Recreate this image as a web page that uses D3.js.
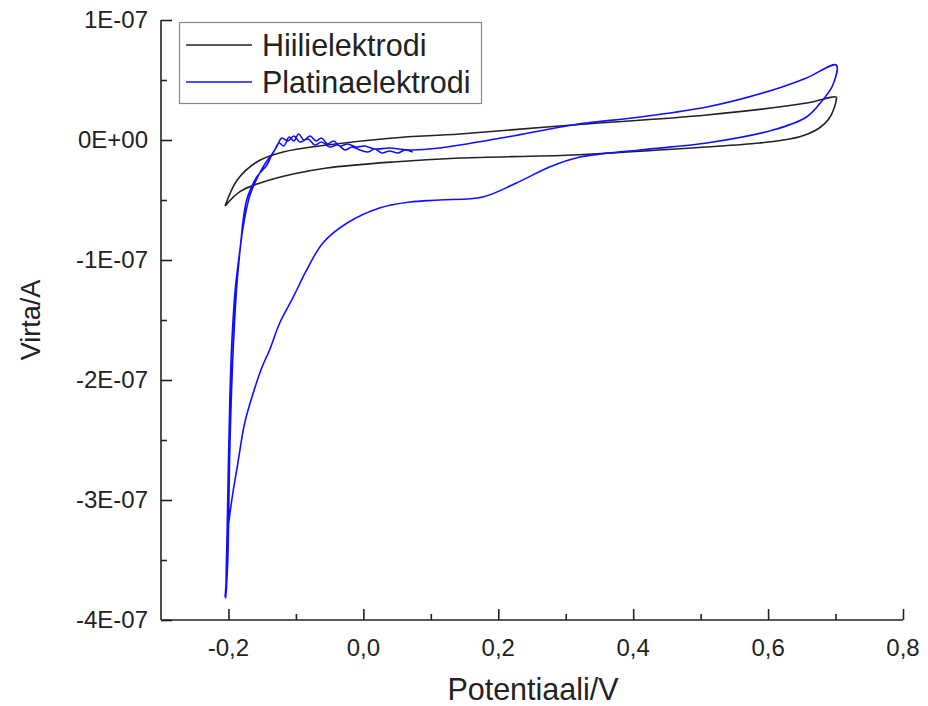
<!DOCTYPE html>
<html>
<head>
<meta charset="utf-8">
<script src="https://cdn.jsdelivr.net/npm/d3@7"></script>
<style>
  body { margin: 0; background: #fff; }
  text { font-family: "Liberation Sans", Arial, sans-serif; fill: #222; }
</style>
</head>
<body>
<div id="chart"></div>
<script>
// Hiilielektrodi (carbon electrode), potential V / current in 1E-08 A
var hiiliX = [-0.205, -0.187, -0.158, -0.119, -0.054, 0.044, 0.143, 0.310, 0.509, 0.657, 0.701,
              0.701, 0.698, 0.690, 0.676, 0.659, 0.632, 0.587, 0.509, 0.310, 0.143, 0.044, -0.054, -0.104, -0.153, -0.183, -0.205];
var hiiliY = [-5.5, -3.33, -1.83, -1.0, -0.42, 0.17, 0.5, 1.25, 2.08, 3.08, 3.58,
              3.33, 2.67, 1.75, 1.0, 0.5, 0.08, -0.25, -0.58, -1.25, -1.5, -1.83, -2.33, -2.83, -3.58, -4.3, -5.5];

// Platinaelektrodi (platinum electrode)
var platX = [0.073, 0.062, 0.051, 0.039, 0.027, 0.017, 0.007, -0.005, -0.017, -0.027, -0.038, -0.050,
             -0.062, -0.072, -0.082, -0.094, -0.103, -0.112, -0.121, -0.128, -0.136, -0.143,
             -0.158, -0.173, -0.183, -0.190, -0.195, -0.198, -0.202, -0.204,
             -0.201, -0.198, -0.193, -0.187, -0.179, -0.168, -0.153, -0.142, -0.133, -0.125, -0.118,
             -0.110, -0.103, -0.096, -0.088, -0.079, -0.070, -0.062, -0.053, -0.044, -0.035, -0.023,
             -0.011, 0.002, 0.017, 0.039, 0.069, 0.113, 0.213, 0.310, 0.410, 0.509, 0.607, 0.657, 0.701,
             0.696, 0.681, 0.657, 0.607, 0.509, 0.410, 0.321, 0.276, 0.227, 0.177, 0.113, 0.069, 0.024,
             -0.024, -0.060, -0.084, -0.104, -0.124, -0.139, -0.150, -0.165, -0.176, -0.187, -0.195,
             -0.201, -0.202, -0.205];
var platY = [-1.0, -0.83, -1.08, -0.92, -1.08, -0.75, -1.0, -0.83, -0.58, -0.83, -0.42, -0.58,
             -0.17, -0.42, 0.08, -0.17, 0.33, -0.08, 0.17, -0.5, -1.25, -2.08,
             -3.08, -5.0, -9.17, -12.5, -16.9, -21.7, -32.75, -38.2,
             -35.0, -25.8, -17.5, -11.7, -7.5, -4.58, -2.67, -1.67, -1.0, -0.25, -0.5,
             0.25, -0.08, 0.5, 0.0, 0.33, -0.08, 0.17, -0.33, -0.08, -0.5, -0.33,
             -0.58, -0.5, -0.75, -0.67, -0.83, -0.67, 0.25, 1.25, 1.92, 2.75, 4.17, 5.17, 6.25,
             4.58, 3.33, 1.92, 0.83, -0.25, -0.83, -1.42, -2.25, -3.58, -4.75, -5.0, -5.17, -5.67,
             -6.92, -8.58, -10.83, -13.1, -15.25, -17.5, -18.9, -21.4, -23.6, -27.25, -30.0,
             -32.75, -35.6, -38.1];

var xTicks = [-0.2, 0.0, 0.2, 0.4, 0.6, 0.8];
var xMinor = [-0.1, 0.1, 0.3, 0.5, 0.7];
var yTicks = [1e-7, 0, -1e-7, -2e-7, -3e-7, -4e-7];
var yMinor = [0.5e-7, -0.5e-7, -1.5e-7, -2.5e-7, -3.5e-7];
var yLabels = ["1E-07", "0E+00", "-1E-07", "-2E-07", "-3E-07", "-4E-07"];

var width = 928, height = 706;
var margin = { top: 20, right: 25, bottom: 86, left: 161 };

var svg = d3.select("#chart").append("svg")
  .attr("width", width)
  .attr("height", height);

var x = d3.scaleLinear().domain([-0.3, 0.8]).range([margin.left, width - margin.right]);
var y = d3.scaleLinear().domain([-4e-7, 1e-7]).range([height - margin.bottom, margin.top]);

function pts(xs, ys) {
  return xs.map((v, i) => [v, ys[i] * 1e-8]);
}

var line = d3.line()
  .x(d => x(d[0]))
  .y(d => y(d[1]))
  .curve(d3.curveCatmullRom.alpha(0.5));

svg.append("path")
  .datum(pts(hiiliX, hiiliY))
  .attr("fill", "none")
  .attr("stroke", "#222")
  .attr("stroke-width", 1.6)
  .attr("d", line);

svg.append("path")
  .datum(pts(platX, platY))
  .attr("fill", "none")
  .attr("stroke", "#1010ff")
  .attr("stroke-width", 1.6)
  .attr("stroke-linejoin", "round")
  .attr("d", line);

// axes, ticks pointing inward
var xAxis = svg.append("g")
  .attr("transform", "translate(0," + y.range()[0] + ")");
xAxis.append("g")
  .call(d3.axisTop(x).tickValues(xMinor).tickSize(6).tickFormat(""))
  .call(g => g.select(".domain").remove());
xAxis.append("g")
  .call(d3.axisTop(x).tickValues(xTicks).tickSize(11).tickFormat(""))
  .call(g => g.select(".domain").remove());
xAxis.selectAll("line").attr("stroke", "#222").attr("stroke-width", 1.6);
xAxis.append("line")
  .attr("x1", x.range()[0]).attr("x2", x.range()[1])
  .attr("stroke", "#222").attr("stroke-width", 1.6);

svg.append("g")
  .selectAll("text")
  .data(xTicks)
  .join("text")
  .attr("x", d => x(d))
  .attr("y", y.range()[0] + 36)
  .attr("text-anchor", "middle")
  .style("font-size", "24px")
  .text(d => d3.format(".1f")(d).replace(".", ",").replace("−", "-"));

var yAxis = svg.append("g")
  .attr("transform", "translate(" + x.range()[0] + ",0)");
yAxis.append("g")
  .call(d3.axisRight(y).tickValues(yMinor).tickSize(6).tickFormat(""))
  .call(g => g.select(".domain").remove());
yAxis.append("g")
  .call(d3.axisRight(y).tickValues(yTicks).tickSize(11).tickFormat(""))
  .call(g => g.select(".domain").remove());
yAxis.selectAll("line").attr("stroke", "#222").attr("stroke-width", 1.6);
yAxis.append("line")
  .attr("y1", y.range()[0]).attr("y2", y.range()[1])
  .attr("stroke", "#222").attr("stroke-width", 1.6);

svg.append("g")
  .selectAll("text")
  .data(yTicks)
  .join("text")
  .attr("x", x.range()[0] - 13)
  .attr("y", d => y(d))
  .attr("dy", "0.35em")
  .attr("text-anchor", "end")
  .style("font-size", "24px")
  .text((d, i) => yLabels[i]);

// axis titles
svg.append("text")
  .attr("x", 533)
  .attr("y", 700)
  .attr("text-anchor", "middle")
  .style("font-size", "30.5px")
  .text("Potentiaali/V");

svg.append("text")
  .attr("transform", "translate(40,320) rotate(-90)")
  .attr("text-anchor", "middle")
  .style("font-size", "27px")
  .text("Virta/A");

// legend
var legend = svg.append("g");
legend.append("rect")
  .attr("x", 179.5).attr("y", 22.5)
  .attr("width", 302).attr("height", 81)
  .attr("fill", "#fff")
  .attr("stroke", "#888")
  .attr("stroke-width", 1.2);

var names = ["Hiilielektrodi", "Platinaelektrodi"];
var colors = ["#222", "#1010ff"];
names.forEach(function (n, i) {
  var yy = 45 + i * 37;
  legend.append("line")
    .attr("x1", 186).attr("x2", 252)
    .attr("y1", yy).attr("y2", yy)
    .attr("stroke", colors[i]).attr("stroke-width", 1.6);
  legend.append("text")
    .attr("x", 262).attr("y", yy)
    .attr("dy", "0.36em")
    .style("font-size", "30.5px")
    .text(n);
});
</script>
</body>
</html>
